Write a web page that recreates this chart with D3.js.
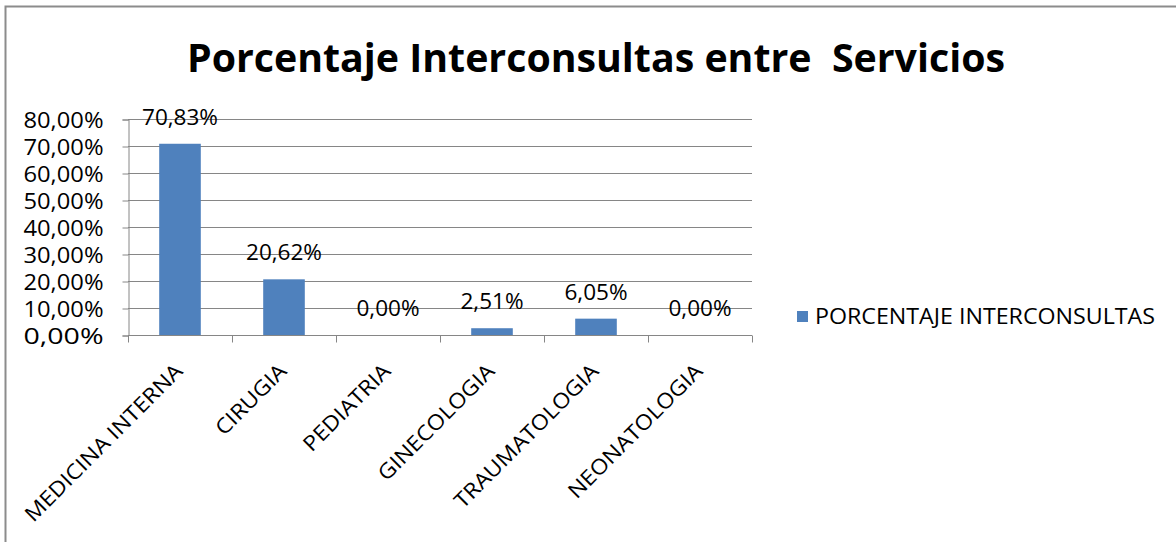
<!DOCTYPE html>
<html><head><meta charset="utf-8">
<script src="https://cdn.jsdelivr.net/npm/d3@7/dist/d3.min.js"></script>
<style>body{margin:0;background:#fff;} text{font-family:"Open Sans","Liberation Sans",sans-serif;}</style>
</head><body>
<svg id="c" width="1176" height="542"></svg>
<script>
const categories = ["MEDICINA INTERNA","CIRUGIA","PEDIATRIA","GINECOLOGIA","TRAUMATOLOGIA","NEONATOLOGIA"];
const values = [70.83, 20.62, 0.00, 2.51, 6.05, 0.00];
const yTicks = [0,10,20,30,40,50,60,70,80];
const seriesName = "PORCENTAJE INTERCONSULTAS";
const titleText = "Porcentaje Interconsultas entre  Servicios";

const svg = d3.select("#c");
const fmt = v => v.toFixed(2).replace(".", ",") + "%";
const color = "#4f81bd";

// chart border (top & left visible)
svg.append("path").attr("d","M5.5,542 V6.5 H1176").attr("fill","none").attr("stroke","#8c8c8c").attr("stroke-width",2);

svg.append("text").attr("x",596).attr("y",72).attr("text-anchor","middle")
  .attr("font-size",40).attr("font-weight","bold").attr("fill","#000")
  .attr("textLength",818).attr("lengthAdjust","spacingAndGlyphs")
  .style("white-space","pre").text(titleText);

const x = d3.scaleBand().domain(categories).range([128,752]).paddingInner(0.6).paddingOuter(0.3);
const xb = d3.scaleBand().domain(categories).range([128,752]);
const y = d3.scaleLinear().domain([0,80]).range([335,119]);

// gridlines
svg.append("g").selectAll("line").data(yTicks).join("line")
  .attr("x1",128).attr("x2",752).attr("y1",d=>y(d)+0.5).attr("y2",d=>y(d)+0.5)
  .attr("stroke","#868686").attr("stroke-width",1.2);

// y axis
const yAxis = d3.axisLeft(y).tickValues(yTicks).tickSize(6).tickFormat(fmt);
const gy = svg.append("g").attr("transform","translate(128.5,0.5)").call(yAxis);
gy.select(".domain").attr("stroke","#868686");
gy.selectAll(".tick line").attr("stroke","#868686");
gy.selectAll(".tick text").attr("font-size",21).attr("fill","#000").attr("x",-25).attr("dy","0.36em")
  .attr("font-family","Open Sans").attr("textLength",80).attr("lengthAdjust","spacingAndGlyphs");

// bars
svg.append("g").selectAll("rect").data(values).join("rect")
  .attr("x",(d,i)=>x(categories[i])).attr("width",x.bandwidth())
  .attr("y",d=>y(d)).attr("height",d=>y(0)-y(d)).attr("fill",color);

// x axis
const gx = svg.append("g").attr("transform","translate(0,335.5)");
gx.append("line").attr("x1",128).attr("x2",752).attr("stroke","#868686").attr("stroke-width",1.2);
const edges = categories.map(c=>xb(c)).concat([752]);
gx.selectAll("line.t").data(edges).join("line").attr("class","t")
  .attr("x1",d=>d+0.5).attr("x2",d=>d+0.5).attr("y1",0).attr("y2",7).attr("stroke","#868686");
const xl = gx.selectAll("text").data(categories).join("text")
  .attr("transform",c=>`translate(${xb(c)+xb.bandwidth()/2+4},${37}) rotate(-45)`)
  .attr("text-anchor","end").attr("font-size",21).attr("fill","#000").text(c=>c);
const f = 213 / xl.nodes()[0].getComputedTextLength();
xl.each(function(){ d3.select(this).attr("textLength", this.getComputedTextLength()*f).attr("lengthAdjust","spacingAndGlyphs"); });

// data labels
const dl = svg.append("g").selectAll("text").data(values).join("text")
  .attr("x",(d,i)=>xb(categories[i])+xb.bandwidth()/2)
  .attr("y",d=>y(d)-19).attr("text-anchor","middle").attr("font-size",21).attr("fill","#000")
  .text(fmt);
const f2 = 76 / dl.nodes()[0].getComputedTextLength();
dl.each(function(){ d3.select(this).attr("textLength", this.getComputedTextLength()*f2).attr("lengthAdjust","spacingAndGlyphs"); });

// legend
svg.append("rect").attr("x",797).attr("y",311).attr("width",11).attr("height",11).attr("fill",color);
svg.append("text").attr("x",815).attr("y",324).attr("font-size",21).attr("fill","#000")
  .attr("textLength",340).attr("lengthAdjust","spacingAndGlyphs").text(seriesName);
</script>
</body></html>
